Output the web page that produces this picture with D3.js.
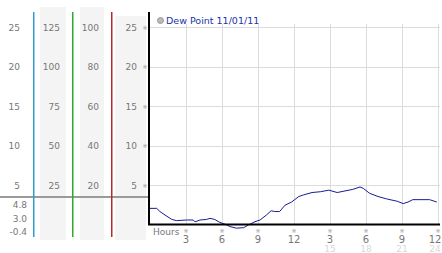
<!DOCTYPE html>
<html><head><meta charset="utf-8">
<script src="https://cdn.jsdelivr.net/npm/d3@7"></script>
<style>body{margin:0;background:#fff;}svg{display:block;font-family:"DejaVu Sans",Verdana,sans-serif;}</style>
</head><body>
<svg id="c" width="442" height="253"></svg>
<script>
const title = "Dew Point 11/01/11";
const hours = [0, 0.56, 0.83, 1.25, 1.8, 2.2, 3.05, 3.6, 3.75, 4.17, 4.7, 5.0, 5.4, 5.8, 6.25, 6.67, 7.2, 7.8, 8.2, 8.75, 9.17, 9.7, 10.1, 10.4, 10.8, 11.25, 11.8, 12.4, 12.8, 13.5, 14.2, 14.9, 15.6, 16.25, 16.9, 17.5, 17.8, 18.3, 19.0, 19.7, 20.6, 21.1, 21.5, 21.9, 22.5, 23.3, 23.9];
const dewPoint = [2.1, 2.1, 1.7, 1.26, 0.72, 0.55, 0.63, 0.63, 0.4, 0.63, 0.7, 0.84, 0.7, 0.34, 0.1, -0.2, -0.4, -0.34, 0, 0.42, 0.63, 1.26, 1.8, 1.7, 1.7, 2.5, 2.9, 3.6, 3.8, 4.1, 4.2, 4.4, 4.1, 4.3, 4.5, 4.8, 4.6, 4.0, 3.6, 3.3, 3.0, 2.7, 2.9, 3.2, 3.2, 3.2, 2.9];
const yTicks = [5, 10, 15, 20, 25];
const col2Labels = [25, 50, 75, 100, 125];
const col3Labels = [20, 40, 60, 80, 100];
const statLabels = ["4.8", "3.0", "-0.4"];
const hourTicks = [3, 6, 9, 12, 15, 18, 21, 24];
const hourLabels = ["3", "6", "9", "12", "3", "6", "9", "12"];
const hourLabels2 = ["", "", "", "", "15", "18", "21", "24"];

const svg = d3.select("#c");
const x = d3.scaleLinear().domain([0, 24]).range([150, 438]);
const y = d3.scaleLinear().domain([0, 25]).range([225, 27]);
const txt = "#777";

// left panel column backgrounds
[[40, 66, 7], [80, 104, 7], [115, 146, 16]].forEach(([a, b, t]) => {
  svg.append("rect").attr("x", a).attr("y", t).attr("width", b - a).attr("height", 240 - t).attr("fill", "#f4f4f4");
});

// gridlines
const g = svg.append("g");
g.selectAll(".hg").data(yTicks).join("line")
  .attr("x1", 150).attr("x2", 440).attr("y1", d => Math.round(y(d)) + 0.5).attr("y2", d => Math.round(y(d)) + 0.5)
  .attr("stroke", "#dcdcdc");
g.selectAll(".vg").data(hourTicks).join("line")
  .attr("x1", d => Math.round(x(d)) + 0.5).attr("x2", d => Math.round(x(d)) + 0.5).attr("y1", 24).attr("y2", 225)
  .attr("stroke", "#dcdcdc");

// gray separator line in left panel
svg.append("rect").attr("x", 0).attr("y", 196).attr("width", 150).attr("height", 2).attr("fill", "#9a9a9a");

// colored vertical lines
[[33, "#2f9fd0"], [72, "#2aae2a"], [111, "#b42a2a"]].forEach(([lx, c]) => {
  svg.append("rect").attr("x", lx).attr("y", 12).attr("width", 1.5).attr("height", 225).attr("fill", c);
});

// column labels
function colLabels(vals, ax) {
  svg.append("g").selectAll("text").data(vals).join("text")
    .attr("x", ax).attr("y", (d, i) => y(yTicks[i]) + 3.5)
    .attr("text-anchor", "end").attr("font-size", 9).attr("fill", txt).text(d => d);
}
colLabels(yTicks, 20);
colLabels(col2Labels, 60);
colLabels(col3Labels, 99);
colLabels(yTicks, 137);
// small marks
svg.append("g").selectAll("text").data(yTicks).join("text")
  .attr("x", 145).attr("y", d => y(d) + 2.5).attr("text-anchor", "middle")
  .attr("font-size", 6).attr("fill", "#999").text("※");

// stats
svg.append("g").selectAll("text").data(statLabels).join("text")
  .attr("x", 27).attr("y", (d, i) => [208, 222, 235][i])
  .attr("text-anchor", "end").attr("font-size", 9).attr("fill", txt).text(d => d);

// line
const line = d3.line().x((d, i) => x(hours[i])).y(d => y(d));
svg.append("path").datum(dewPoint).attr("d", line).attr("fill", "none").attr("stroke", "#1a1a99").attr("stroke-width", 1);

// axes lines
svg.append("line").attr("x1", 149).attr("x2", 149).attr("y1", 12).attr("y2", 225).attr("stroke", "#000").attr("stroke-width", 2);
svg.append("line").attr("x1", 148).attr("x2", 440).attr("y1", 224.5).attr("y2", 224.5).attr("stroke", "#000").attr("stroke-width", 2);

// x labels
svg.append("text").attr("x", 153).attr("y", 235).attr("font-size", 9).attr("fill", txt).text("Hours");
svg.append("g").selectAll("text").data(hourTicks).join("text")
  .attr("x", d => x(d)).attr("y", 233).attr("text-anchor", "middle").attr("font-size", 6).attr("fill", "#999").text("※");
svg.append("g").selectAll("text").data(hourTicks).join("text")
  .attr("x", d => Math.min(x(d), 435)).attr("y", 243).attr("text-anchor", "middle").attr("font-size", 10).attr("fill", txt)
  .text((d, i) => hourLabels[i]);
svg.append("g").selectAll("text").data(hourTicks).join("text")
  .attr("x", d => Math.min(x(d), 435)).attr("y", 252).attr("text-anchor", "middle").attr("font-size", 9).attr("fill", "#d8d8d8")
  .text((d, i) => hourLabels2[i]);

// legend
svg.append("circle").attr("cx", 160.5).attr("cy", 20.5).attr("r", 3).attr("fill", "#bbb").attr("stroke", "#888").attr("stroke-width", 0.8);
svg.append("text").attr("x", 166).attr("y", 24).attr("font-size", 9.5).attr("fill", "#2233aa").text(title);
</script>
</body></html>
